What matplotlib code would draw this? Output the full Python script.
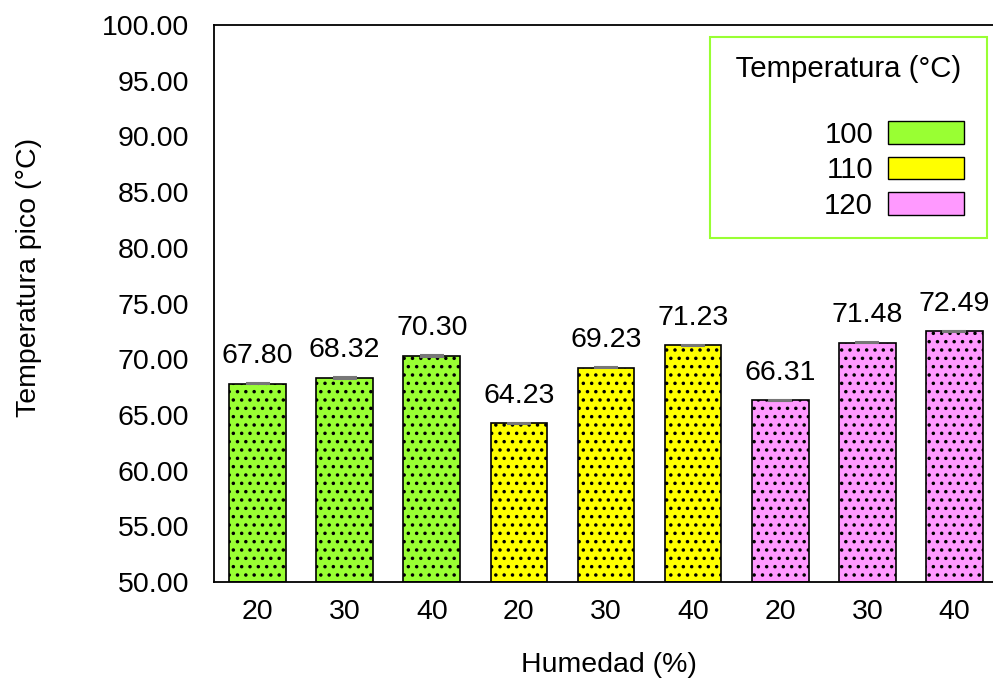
import matplotlib
matplotlib.use('Agg')
import matplotlib.pyplot as plt
from matplotlib.patches import Patch, Rectangle
from matplotlib.legend_handler import HandlerPatch

# --- Data ---
humedad = ['20', '30', '40', '20', '30', '40', '20', '30', '40']
temp_pico = [67.80, 68.32, 70.30, 64.23, 69.23, 71.23, 66.31, 71.48, 72.49]
errores = [0.06, 0.06, 0.06, 0.06, 0.06, 0.06, 0.06, 0.06, 0.06]
grupos = ['100', '110', '120']
colores_grupo = ['#99FF33', '#FFFF00', '#FF99FF']
colores = [c for c in colores_grupo for _ in range(3)]

plt.rcParams['font.family'] = ['Liberation Sans', 'DejaVu Sans']
plt.rcParams['hatch.linewidth'] = 1.3

FS = 20.5
FS_LEG = 21.2

fig = plt.figure(figsize=(9.93, 6.82), dpi=100)
ax = fig.add_axes([214 / 993, 100 / 682, 784 / 993, 557 / 682])

x = list(range(len(temp_pico)))
ax.bar(x, [v - 50 for v in temp_pico], bottom=50, width=0.65,
       color=colores, edgecolor='black', linewidth=1.2, hatch='..',
       yerr=errores, ecolor='#777777',
       error_kw=dict(capsize=8.5, elinewidth=1, capthick=1.5))
for xi, v in zip(x, temp_pico):
    ax.text(xi, v + 1.3, f'{v:.2f}', ha='center', va='bottom', fontsize=FS)

ax.set_xlim(-0.5, 8.5)
ax.set_ylim(50, 100)
ax.set_yticks([50 + 5 * i for i in range(11)])
ax.set_yticklabels([f'{50 + 5 * i:.2f}' for i in range(11)])
ax.set_xticks(x)
ax.set_xticklabels(humedad)
ax.tick_params(axis='both', length=0, labelsize=FS)
ax.tick_params(axis='y', pad=18)
ax.tick_params(axis='x', pad=12)
ax.spines['right'].set_visible(False)
for s in ['left', 'top', 'bottom']:
    ax.spines[s].set_linewidth(1.3)

ax.set_ylabel('Temperatura pico (°C)', fontsize=FS)
ax.set_xlabel('Humedad (%)', fontsize=FS)
ax.yaxis.set_label_coords(-0.219, 0.546)
ax.xaxis.set_label_coords(0.504, -0.125)


# legend swatch drawn a bit short of its slot, leaving space on the right
def swatch(legend, orig_handle, xdescent, ydescent, width, height, fontsize):
    return Rectangle((-xdescent, -ydescent), width - 3.6, height)


handles = [Patch(facecolor=c, edgecolor='black', linewidth=1) for c in colores_grupo]
leg = fig.legend(handles, grupos, title=' Temperatura (°C) \n', loc='upper right',
                 bbox_to_anchor=(987 / 993, 1 - 37 / 682), bbox_transform=fig.transFigure,
                 markerfirst=False, fontsize=FS_LEG, title_fontsize=FS_LEG, alignment='right',
                 handlelength=2.77, handleheight=0.82, labelspacing=0.26,
                 handletextpad=0.5, borderpad=0.6, fancybox=False, framealpha=1,
                 edgecolor='#99FF33', borderaxespad=0,
                 handler_map={Patch: HandlerPatch(patch_func=swatch)})
leg.get_title().set_linespacing(1.1)
leg.get_frame().set_linewidth(1.5)

fig.savefig('out.png', dpi=100, facecolor='white')
